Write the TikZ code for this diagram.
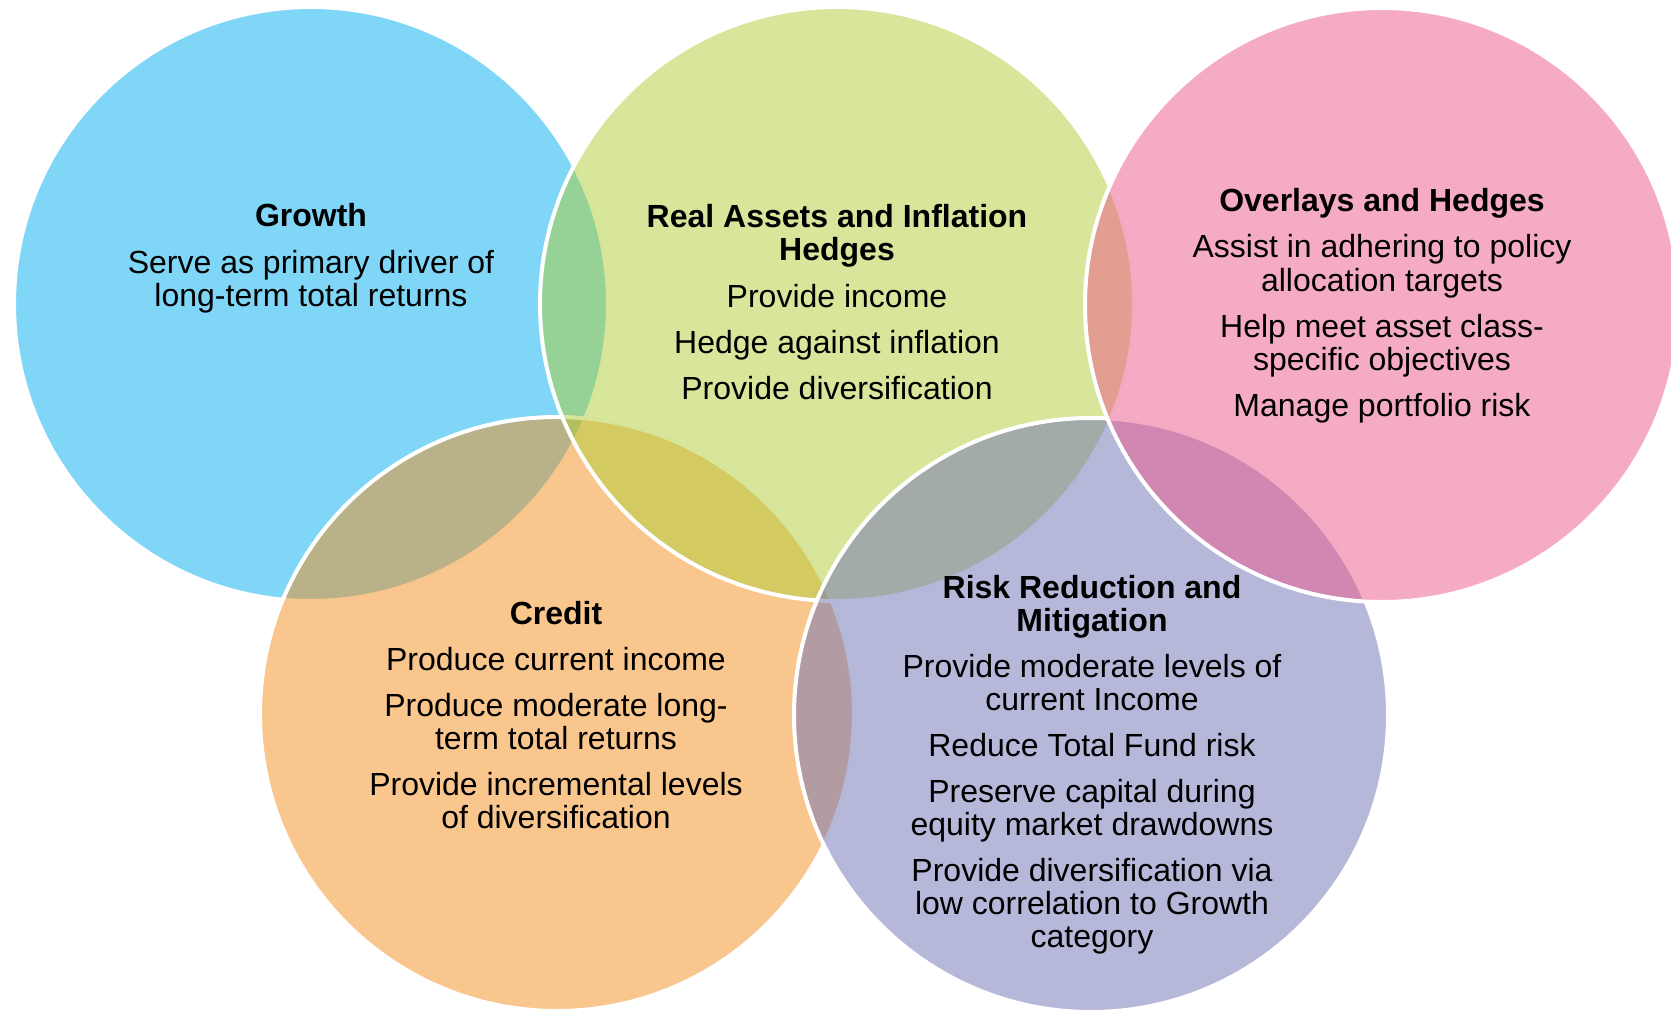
\documentclass[tikz,border=0pt]{standalone}
\usepackage{fontspec}
\setmainfont{Liberation Sans}
\definecolor{growthC}{RGB}{0,173,237}
\definecolor{realC}{RGB}{175,205,55}
\definecolor{overC}{RGB}{235,87,137}
\definecolor{creditC}{RGB}{243,143,29}
\definecolor{riskC}{RGB}{109,113,181}
\tikzset{
  bubble/.style={circle, minimum size=594pt, inner sep=0pt, draw=white, line width=4pt, fill opacity=0.5, draw opacity=1},
  head/.style={font=\bfseries\fontsize{32}{33}\selectfont, anchor=base, inner sep=0pt, text=black},
  body/.style={font=\fontsize{32}{33}\selectfont, anchor=base, inner sep=0pt, text=black}
}
\begin{document}
\begin{tikzpicture}[x=1pt,y=-1pt]
\useasboundingbox (0,0) rectangle (1671,1011);
% circles in stacking order
\node[bubble, fill=growthC] (growth) at (311,304) {};
\node[bubble, fill=creditC] (credit) at (557,714) {};
\node[bubble, fill=realC] (real) at (837,304) {};
\node[bubble, fill=riskC] (risk) at (1091,715) {};
\node[bubble, fill=overC] (over) at (1382,305) {};
% Growth
\node[head] (g0) at (311,227) {Growth};
\node[body] (g1) at (311,273) {Serve as primary driver of};
\node[body] (g2) at (311,306) {long-term total returns};
% Real assets
\node[head] (r0) at (837,228) {Real Assets and Inflation};
\node[head] (r1) at (837,261) {Hedges};
\node[body] (r2) at (837,307) {Provide income};
\node[body] (r3) at (837,353) {Hedge against inflation};
\node[body] (r4) at (837,399) {Provide diversification};
% Overlays
\node[head] (o0) at (1382,212) {Overlays and Hedges};
\node[body] (o1) at (1382,258) {Assist in adhering to policy};
\node[body] (o2) at (1382,291) {allocation targets};
\node[body] (o3) at (1382,337) {Help meet asset class-};
\node[body] (o4) at (1382,370) {specific objectives};
\node[body] (o5) at (1382,416) {Manage portfolio risk};
% Credit
\node[head] (c0) at (556,624) {Credit};
\node[body] (c1) at (556,670) {Produce current income};
\node[body] (c2) at (556,716) {Produce moderate long-};
\node[body] (c3) at (556,749) {term total returns};
\node[body] (c4) at (556,795) {Provide incremental levels};
\node[body] (c5) at (556,828) {of diversification};
% Risk reduction
\node[head] (k0) at (1092,598) {Risk Reduction and};
\node[head] (k1) at (1092,631) {Mitigation};
\node[body] (k2) at (1092,677) {Provide moderate levels of};
\node[body] (k3) at (1092,710) {current Income};
\node[body] (k4) at (1092,756) {Reduce Total Fund risk};
\node[body] (k5) at (1092,802) {Preserve capital during};
\node[body] (k6) at (1092,835) {equity market drawdowns};
\node[body] (k7) at (1092,881) {Provide diversification via};
\node[body] (k8) at (1092,914) {low correlation to Growth};
\node[body] (k9) at (1092,947) {category};
\end{tikzpicture}
\end{document}
